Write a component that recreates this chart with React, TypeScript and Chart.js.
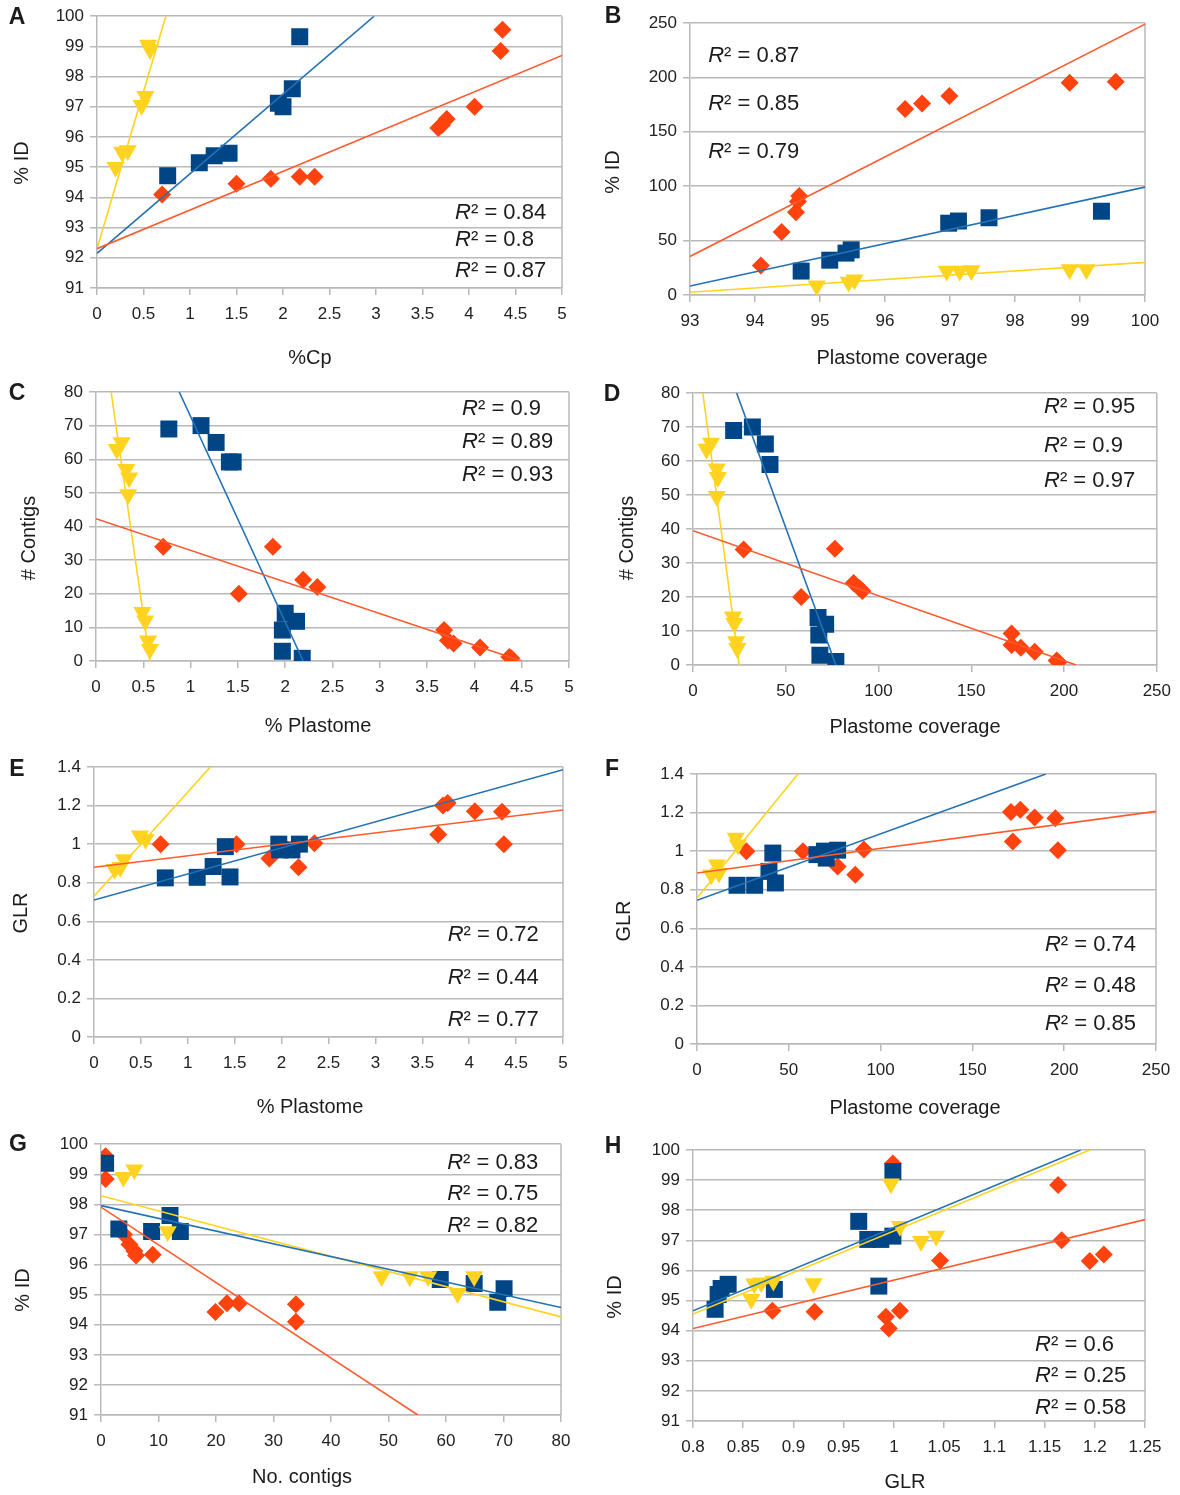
import React, { useEffect, useRef } from "react";
import { Chart, registerables } from "chart.js";
Chart.register(...registerables);

type P = [number, number];

// ---------- Panel A: %ID vs %Cp ----------
const A_red: P[] = [[0.70,94.1],[1.50,94.45],[1.87,94.62],[2.18,94.68],[2.34,94.68],[3.67,96.3],[3.71,96.4],[3.76,96.6],[4.06,97.0],[4.34,98.85],[4.36,99.55]];
const A_blue: P[] = [[0.76,94.72],[1.10,95.15],[1.26,95.38],[1.42,95.46],[1.95,97.12],[2.0,97.0],[2.1,97.6],[2.18,99.32]];
const A_yellow: P[] = [[0.2,95.0],[0.27,95.5],[0.33,95.55],[0.48,97.05],[0.52,97.35],[0.55,99.05],[0.57,98.9]];
const A_redTrend: P[] = [[0,92.3],[5,98.7]];
const A_blueTrend: P[] = [[0,92.15],[2.98,100]];
const A_yellowTrend: P[] = [[0,92.3],[0.74,100]];
const A_r2 = ["0.84","0.8","0.87"];

// ---------- Panel B: %ID vs Plastome coverage ----------
const B_red: P[] = [[94.09,27],[94.41,58],[94.63,76],[94.66,86],[94.68,91],[96.31,171],[96.57,176],[96.99,183],[98.84,195],[99.55,196]];
const B_blue: P[] = [[94.71,22],[95.15,32],[95.4,38.5],[95.48,41.5],[96.98,66],[97.13,68],[97.6,71],[99.33,77]];
const B_yellow: P[] = [[94.95,8.5],[95.44,12],[95.53,14],[96.95,22],[97.15,22],[97.33,22.5],[98.84,23.5],[99.1,23.5]];
const B_redTrend: P[] = [[93,35.4],[100,249]];
const B_blueTrend: P[] = [[93,8.3],[100,99.2]];
const B_yellowTrend: P[] = [[93,2.5],[100,30]];
const B_r2 = ["0.87","0.85","0.79"];

// ---------- Panel C: # Contigs vs % Plastome ----------
const C_red: P[] = [[0.71,34],[1.51,20],[1.87,34],[2.19,24.2],[2.34,22],[3.68,9.2],[3.72,6.1],[3.78,5.2],[4.06,4],[4.37,1.2],[4.39,0.8]];
const C_blue: P[] = [[0.77,69],[1.11,70],[1.27,65],[1.41,59.2],[1.45,59.2],[2.0,14.2],[1.97,9.2],[2.12,11.8],[1.97,2.9],[2.18,0.8]];
const C_yellow: P[] = [[0.22,63],[0.27,65],[0.32,57],[0.35,54.5],[0.34,49.5],[0.49,14.5],[0.52,12],[0.55,6],[0.57,3.5]];
const C_redTrend: P[] = [[0,42.3],[4.5,0]];
const C_blueTrend: P[] = [[0.88,80],[2.19,0]];
const C_yellowTrend: P[] = [[0.16,80],[0.57,0]];
const C_r2 = ["0.9","0.89","0.93"];

// ---------- Panel D: # Contigs vs Plastome coverage ----------
const D_red: P[] = [[27.3,34],[58.3,20],[76.5,34.2],[86.6,24.1],[89.7,22.6],[91.3,21.8],[171.7,9.3],[171.7,5.9],[176.7,5.1],[184.2,3.9],[196,1.3],[197,0.8]];
const D_blue: P[] = [[21.9,69],[32,70],[39,65],[41.5,59],[67.4,14],[67.8,8.8],[71.5,12],[68.4,2.9],[77,1]];
const D_yellow: P[] = [[7.3,63.5],[9.7,65.3],[12.8,57.7],[13.4,55.2],[12.8,49.6],[21.5,14.2],[22.3,12.3],[23.3,6.9],[23.9,4.9]];
const D_redTrend: P[] = [[0,39.5],[206.5,0]];
const D_blueTrend: P[] = [[23.5,80],[77,0]];
const D_yellowTrend: P[] = [[5.3,80],[24.9,0]];
const D_r2 = ["0.95","0.9","0.97"];

// ---------- Panel E: GLR vs % Plastome ----------
const E_red: P[] = [[0.71,1.0],[1.52,1.0],[1.87,0.925],[2.18,0.88],[2.35,1.005],[3.67,1.05],[3.72,1.2],[3.77,1.213],[4.06,1.17],[4.35,1.168],[4.37,1.0]];
const E_blue: P[] = [[0.76,0.825],[1.1,0.828],[1.27,0.884],[1.4,0.987],[1.45,0.83],[1.97,1.0],[1.98,0.97],[2.11,0.97],[2.19,1.0]];
const E_yellow: P[] = [[0.22,0.87],[0.28,0.88],[0.32,0.92],[0.49,1.043],[0.55,1.026]];
const E_redTrend: P[] = [[0,0.88],[5,1.177]];
const E_blueTrend: P[] = [[0,0.71],[5,1.386]];
const E_yellowTrend: P[] = [[0,0.73],[1.24,1.4]];
const E_r2 = ["0.72","0.44","0.77"];

// ---------- Panel F: GLR vs Plastome coverage ----------
const F_red: P[] = [[26.9,1.0],[57.7,1.0],[76.6,0.921],[86.2,0.878],[90.9,1.008],[171,1.203],[176.1,1.215],[172,1.05],[183.9,1.174],[195.2,1.17],[196.6,1.004]];
const F_blue: P[] = [[21.8,0.823],[31.4,0.823],[39.2,0.895],[41.3,0.99],[42.7,0.835],[65.3,0.982],[69.4,1.0],[70.4,0.964],[76.6,1.005]];
const F_yellow: P[] = [[7.8,0.878],[10.9,0.93],[11.9,0.887],[21.1,1.068],[22.2,1.033]];
const F_redTrend: P[] = [[0,0.887],[250,1.206]];
const F_blueTrend: P[] = [[0,0.745],[190,1.4]];
const F_yellowTrend: P[] = [[0,0.757],[55,1.4]];
const F_r2 = ["0.74","0.48","0.85"];

// ---------- Panel G: %ID vs No. contigs ----------
const G_red: P[] = [[0.8,99.6],[0.8,98.84],[4,97.0],[4.95,96.67],[5.8,96.45],[6.1,96.3],[9,96.33],[19.9,94.42],[21.9,94.71],[24,94.71],[33.9,94.68],[33.9,94.1]];
const G_blue: P[] = [[0.8,99.37],[3.1,97.18],[8.8,97.1],[12,97.63],[13.8,97.1],[59,95.5],[64.9,95.37],[69,94.75],[70.1,95.2]];
const G_yellow: P[] = [[3.9,98.9],[5.8,99.15],[11.6,97.1],[48.8,95.6],[53.7,95.6],[56.9,95.6],[62,95.05],[64.9,95.6]];
const G_redTrend: P[] = [[0,97.91],[55.1,91]];
const G_blueTrend: P[] = [[0,97.96],[80,94.57]];
const G_yellowTrend: P[] = [[0,98.29],[80,94.26]];
const G_r2 = ["0.83","0.75","0.82"];

// ---------- Panel H: %ID vs GLR ----------
const H_red: P[] = [[0.879,94.66],[0.921,94.63],[0.992,94.46],[0.995,94.07],[0.999,99.55],[1.006,94.66],[1.046,96.33],[1.1635,98.84],[1.167,97.0],[1.195,96.31],[1.209,96.53]];
const H_blue: P[] = [[0.822,94.71],[0.825,95.2],[0.828,95.4],[0.835,95.54],[0.881,95.37],[0.965,97.63],[0.974,97.03],[0.987,97.03],[0.999,97.14],[0.985,95.48],[0.999,99.28]];
const H_yellow: P[] = [[0.858,95.04],[0.861,95.56],[0.868,95.59],[0.88,95.65],[0.92,95.57],[0.997,98.88],[1.006,97.47],[1.027,96.97],[1.042,97.14]];
const H_redTrend: P[] = [[0.8,94.07],[1.25,97.69]];
const H_blueTrend: P[] = [[0.8,94.66],[1.186,100]];
const H_yellowTrend: P[] = [[0.8,94.55],[1.195,100]];
const H_r2 = ["0.6","0.25","0.58"];

// ---------- Tick values ----------
const ticksPct5 = [0,0.5,1,1.5,2,2.5,3,3.5,4,4.5,5];
const ticksId = [91,92,93,94,95,96,97,98,99,100];
const ticksCov93 = [93,94,95,96,97,98,99,100];
const ticksCov250 = [0,50,100,150,200,250];
const ticksB_y = [0,50,100,150,200,250];
const ticksContigs = [0,10,20,30,40,50,60,70,80];
const ticksGLR = [0,0.2,0.4,0.6,0.8,1,1.2,1.4];
const ticksG_x = [0,10,20,30,40,50,60,70,80];
const ticksH_x = [0.8,0.85,0.9,0.95,1,1.05,1.1,1.15,1.2,1.25];

// ---------- Styles ----------
const RED = "#ff420e";
const BLUE = "#004586";
const YELLOW = "#ffd320";
const RED_LINE = "#ff5a2e";
const BLUE_LINE = "#2472b4";
const YELLOW_LINE = "#ffd320";
const GRID = "#b9b9b9";
const TEXT = "#1c1c1c";
const FONT = "'Liberation Sans', Arial, sans-serif";

interface Spec {
  letter: string;
  cell: [number, number, number, number];
  plot: [number, number, number, number];
  xr: [number, number]; xt: number[];
  yr: [number, number]; yt: number[];
  xTitle: string; yTitle: string;
  xTitlePos: [number, number]; yTitlePos: [number, number]; letterPos: [number, number];
  red: P[]; blue: P[]; yellow: P[];
  redT: P[]; blueT: P[]; yellowT: P[];
  r2: string[]; r2X: number; r2Y: number[];
}

const SPECS: Spec[] = [
  { letter: "A", cell: [0,0,590,372], plot: [97,16,562,288], xr: [0,5], xt: ticksPct5, yr: [91,100], yt: ticksId,
    xTitle: "%Cp", yTitle: "% ID", xTitlePos: [310,358], yTitlePos: [22,163], letterPos: [17,18],
    red: A_red, blue: A_blue, yellow: A_yellow, redT: A_redTrend, blueT: A_blueTrend, yellowT: A_yellowTrend,
    r2: A_r2, r2X: 3.85, r2Y: [93.5,92.58,91.56] },
  { letter: "B", cell: [590,0,590,372], plot: [690,23,1145,295], xr: [93,100], xt: ticksCov93, yr: [0,250], yt: ticksB_y,
    xTitle: "Plastome coverage", yTitle: "% ID", xTitlePos: [902,358], yTitlePos: [613,172], letterPos: [613,17],
    red: B_red, blue: B_blue, yellow: B_yellow, redT: B_redTrend, blueT: B_blueTrend, yellowT: B_yellowTrend,
    r2: B_r2, r2X: 93.28, r2Y: [219.7,175.6,131.4] },
  { letter: "C", cell: [0,372,590,376], plot: [96,392,569,661], xr: [0,5], xt: ticksPct5, yr: [0,80], yt: ticksContigs,
    xTitle: "% Plastome", yTitle: "# Contigs", xTitlePos: [318,726], yTitlePos: [29,538], letterPos: [17,394],
    red: C_red, blue: C_blue, yellow: C_yellow, redT: C_redTrend, blueT: C_blueTrend, yellowT: C_yellowTrend,
    r2: C_r2, r2X: 3.87, r2Y: [74.9,65.1,55.3] },
  { letter: "D", cell: [590,372,590,376], plot: [693,393,1158,665], xr: [0,250], xt: ticksCov250, yr: [0,80], yt: ticksContigs,
    xTitle: "Plastome coverage", yTitle: "# Contigs", xTitlePos: [915,727], yTitlePos: [627,538], letterPos: [612,395],
    red: D_red, blue: D_blue, yellow: D_yellow, redT: D_redTrend, blueT: D_blueTrend, yellowT: D_yellowTrend,
    r2: D_r2, r2X: 189.2, r2Y: [75.8,64.5,54.1] },
  { letter: "E", cell: [0,748,590,380], plot: [94,767,563,1037], xr: [0,5], xt: ticksPct5, yr: [0,1.4], yt: ticksGLR,
    xTitle: "% Plastome", yTitle: "GLR", xTitlePos: [310,1107], yTitlePos: [21,913], letterPos: [17,770],
    red: E_red, blue: E_blue, yellow: E_yellow, redT: E_redTrend, blueT: E_blueTrend, yellowT: E_yellowTrend,
    r2: E_r2, r2X: 3.77, r2Y: [0.529,0.306,0.088] },
  { letter: "F", cell: [590,748,590,380], plot: [697,774,1156,1044], xr: [0,250], xt: ticksCov250, yr: [0,1.4], yt: ticksGLR,
    xTitle: "Plastome coverage", yTitle: "GLR", xTitlePos: [915,1108], yTitlePos: [624,921], letterPos: [612,770],
    red: F_red, blue: F_blue, yellow: F_yellow, redT: F_redTrend, blueT: F_blueTrend, yellowT: F_yellowTrend,
    r2: F_r2, r2X: 189.5, r2Y: [0.513,0.301,0.104] },
  { letter: "G", cell: [0,1128,590,367], plot: [101,1143,561,1415], xr: [0,80], xt: ticksG_x, yr: [91,100], yt: ticksId,
    xTitle: "No. contigs", yTitle: "% ID", xTitlePos: [302,1477], yTitlePos: [23,1290], letterPos: [18,1145],
    red: G_red, blue: G_blue, yellow: G_yellow, redT: G_redTrend, blueT: G_blueTrend, yellowT: G_yellowTrend,
    r2: G_r2, r2X: 60.2, r2Y: [99.37,98.34,97.28] },
  { letter: "H", cell: [590,1128,590,367], plot: [693,1150,1145,1421], xr: [0.8,1.25], xt: ticksH_x, yr: [91,100], yt: ticksId,
    xTitle: "GLR", yTitle: "% ID", xTitlePos: [905,1482], yTitlePos: [615,1297], letterPos: [613,1147],
    red: H_red, blue: H_blue, yellow: H_yellow, redT: H_redTrend, blueT: H_blueTrend, yellowT: H_yellowTrend,
    r2: H_r2, r2X: 1.1406, r2Y: [93.52,92.49,91.43] },
];

const toXY = (arr: P[]) => arr.map(([x, y]) => ({ x, y }));
const fmt = (v: number) => String(Math.round(v * 1000) / 1000);

function makeDecor(s: Spec) {
  const [cx, cy] = s.cell;
  return {
    id: "decor" + s.letter,
    beforeDatasetsDraw(chart: any) {
      const { ctx, chartArea } = chart;
      ctx.save();
      ctx.strokeStyle = GRID;
      ctx.lineWidth = 1.5;
      ctx.beginPath();
      ctx.moveTo(chartArea.right, chartArea.top);
      ctx.lineTo(chartArea.right, chartArea.bottom);
      ctx.stroke();
      ctx.restore();
    },
    afterDraw(chart: any) {
      const { ctx } = chart;
      const xs = chart.scales.x;
      const ys = chart.scales.y;
      ctx.save();
      ctx.fillStyle = TEXT;
      ctx.textBaseline = "middle";
      ctx.font = `bold 23px ${FONT}`;
      ctx.textAlign = "center";
      ctx.fillText(s.letter, s.letterPos[0] - cx, s.letterPos[1] - cy);
      ctx.font = `20px ${FONT}`;
      ctx.fillText(s.xTitle, s.xTitlePos[0] - cx, s.xTitlePos[1] - cy);
      ctx.save();
      ctx.translate(s.yTitlePos[0] - cx, s.yTitlePos[1] - cy);
      ctx.rotate(-Math.PI / 2);
      ctx.fillText(s.yTitle, 0, 0);
      ctx.restore();
      ctx.textAlign = "left";
      s.r2.forEach((val, i) => {
        const px = xs.getPixelForValue(s.r2X);
        const py = ys.getPixelForValue(s.r2Y[i]);
        ctx.font = `italic 22px ${FONT}`;
        ctx.fillText("R", px, py);
        const w = ctx.measureText("R").width;
        ctx.font = `22px ${FONT}`;
        ctx.fillText("\u00B2 = " + val, px + w, py);
      });
      ctx.restore();
    },
  };
}

function buildConfig(s: Spec): any {
  const [cx, cy, cw, ch] = s.cell;
  const [pl, pt, pr, pb] = s.plot;
  const padL = pl - cx;
  const padT = pt - cy;
  const padR = cx + cw - pr;
  const padB = cy + ch - pb;
  const tickFont = { family: FONT, size: 17 };
  const trend = (data: P[], color: string) => ({
    data: toXY(data), showLine: true, borderColor: color, backgroundColor: color,
    borderWidth: 1.6, pointRadius: 0, pointHoverRadius: 0, fill: false, tension: 0, order: 0,
  });
  return {
    type: "scatter",
    data: {
      datasets: [
        trend(s.redT, RED_LINE),
        trend(s.blueT, BLUE_LINE),
        trend(s.yellowT, YELLOW_LINE),
        { data: toXY(s.yellow), pointStyle: "triangle", rotation: 180, pointRadius: 10.5, pointHoverRadius: 10.5,
          backgroundColor: YELLOW, borderColor: YELLOW, pointBorderWidth: 0, showLine: false, order: 1 },
        { data: toXY(s.blue), pointStyle: "rect", pointRadius: 12, pointHoverRadius: 12,
          backgroundColor: BLUE, borderColor: BLUE, pointBorderWidth: 0, showLine: false, order: 2 },
        { data: toXY(s.red), pointStyle: "rectRot", pointRadius: 9, pointHoverRadius: 9,
          backgroundColor: RED, borderColor: RED, pointBorderWidth: 0, showLine: false, order: 3 },
      ],
    },
    options: {
      animation: false,
      responsive: false,
      devicePixelRatio: 1,
      events: [],
      layout: { padding: { top: padT, right: padR, left: 0, bottom: 0 } },
      plugins: { legend: { display: false }, tooltip: { enabled: false }, title: { display: false } },
      scales: {
        x: {
          type: "linear", min: s.xr[0], max: s.xr[1],
          afterBuildTicks: (sc: any) => { sc.ticks = s.xt.map((v) => ({ value: v })); },
          afterFit: (sc: any) => { sc.height = padB; },
          grid: { drawOnChartArea: false, drawTicks: true, tickLength: 7, color: GRID, lineWidth: 1.5 },
          border: { display: true, color: GRID, width: 1.5 },
          ticks: { font: tickFont, color: "#222", padding: 9, maxRotation: 0, autoSkip: false, callback: (v: number) => fmt(v) },
        },
        y: {
          type: "linear", min: s.yr[0], max: s.yr[1],
          afterBuildTicks: (sc: any) => { sc.ticks = s.yt.map((v) => ({ value: v })); },
          afterFit: (sc: any) => { sc.width = padL; },
          grid: { drawOnChartArea: true, drawTicks: true, tickLength: 7, color: GRID, lineWidth: 1.5 },
          border: { display: true, color: GRID, width: 1.5 },
          ticks: { font: tickFont, color: "#222", padding: 6, autoSkip: false, callback: (v: number) => fmt(v) },
        },
      },
    },
    plugins: [makeDecor(s)],
  };
}

function Panel({ spec }: { spec: Spec }) {
  const ref = useRef<HTMLCanvasElement>(null);
  useEffect(() => {
    if (!ref.current) return;
    const chart = new Chart(ref.current, buildConfig(spec));
    return () => chart.destroy();
  }, [spec]);
  const [cx, cy, cw, ch] = spec.cell;
  return (
    <canvas
      ref={ref}
      width={cw}
      height={ch}
      style={{ position: "absolute", left: cx, top: cy, width: cw, height: ch, display: "block" }}
    />
  );
}

export default function App() {
  return (
    <div style={{ position: "absolute", left: 0, top: 0, width: 1180, height: 1495, background: "#ffffff", overflow: "hidden" }}>
      {SPECS.map((s) => (
        <Panel key={s.letter} spec={s} />
      ))}
    </div>
  );
}
